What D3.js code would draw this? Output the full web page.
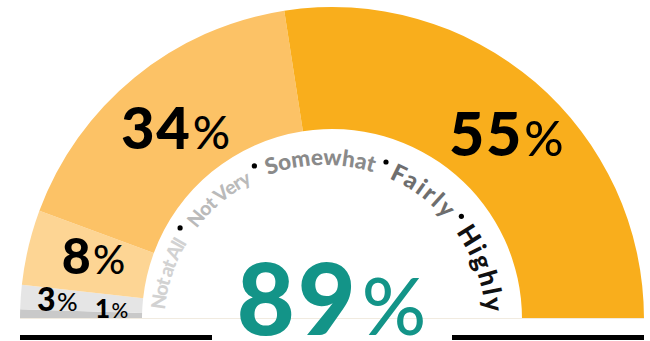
<!DOCTYPE html>
<html lang="en">
<head>
<meta charset="UTF-8">
<title>Gauge</title>
<style>
    body {
        margin: 0;
        background-color: #fff;
    }
    svg {
        display: block;
        font-family: Lato, "Noto Sans", sans-serif;
    }
</style>
</head>
<body>
<svg id="chart" width="650" height="341"></svg>
<script src="https://d3js.org/d3.v7.min.js"></script>
<script>
    // data
    const categories = ["Not at All", "Not Very", "Somewhat", "Fairly", "Highly"];
    const values = [1.0, 2.5, 7.8, 33.9, 55.0];
    const valueLabels = ["1%", "3%", "8%", "34%", "55%"];
    const headline = "89";

    // layout
    const cx = 332, cy = 319;
    const innerR = 190, outerR = 312;
    const sliceColors = ["#c9c9c9", "#e5e5e5", "#fdd594", "#fcc266", "#f9ae1c"];
    const labelSizes = [26, 32, 50, 58, 61];
    const labelRadius = [220, 275, 246, 246, 255];
    const labelNudge = [0, 0, 1.6, 0, 2.8]; // degrees along the arc

    // curved word ring (angles in degrees, measured from the left end)
    const wordColors = ["#d2d2d2", "#bababa", "#8a8a8a", "#6e6e6e", "#111"];
    const wordSizes = [19.5, 19.5, 22.5, 24, 26];
    const ringStart = 5.7, ringEnd = 175, dotGap = 3;
    const dotAngles = [34.1, 66.2, 110.4, 141.2];

    const svg = d3.select("#chart");

    const pie = d3.pie().sort(null)
        .startAngle(-Math.PI / 2)
        .endAngle(Math.PI / 2);
    const arcs = pie(values);

    const arc = d3.arc().innerRadius(innerR).outerRadius(outerR);

    const g = svg.append("g").attr("transform", `translate(${cx},${cy})`);

    g.selectAll("path.slice")
        .data(arcs)
        .enter().append("path")
        .attr("class", "slice")
        .attr("d", arc)
        .attr("fill", (d, i) => sliceColors[i]);

    // faint base line
    svg.append("line")
        .attr("x1", cx - outerR).attr("x2", cx + outerR)
        .attr("y1", cy - 0.5).attr("y2", cy - 0.5)
        .attr("stroke", "#f1ebe0").attr("stroke-width", 1);

    // value labels, kept above the base line
    function labelPos(d, i) {
        const a = (d.startAngle + d.endAngle) / 2 + labelNudge[i] * Math.PI / 180;
        const x = labelRadius[i] * Math.sin(a);
        let y = -labelRadius[i] * Math.cos(a) + 0.36 * labelSizes[i];
        return [x, Math.min(y, -1)];
    }

    g.selectAll("text.val")
        .data(arcs)
        .enter().append("text")
        .attr("class", "val")
        .attr("text-anchor", "middle")
        .attr("font-weight", 900)
        .attr("letter-spacing", "0.03em")
        .attr("font-size", (d, i) => labelSizes[i])
        .attr("fill", "#000")
        .attr("x", (d, i) => labelPos(d, i)[0])
        .attr("y", (d, i) => labelPos(d, i)[1])
        .each(function(d, i) {
            const t = d3.select(this);
            const num = valueLabels[i].replace("%", "");
            t.append("tspan").text(num);
            t.append("tspan").attr("font-size", "0.8em").attr("font-weight", 500).attr("dx", "0.02em").text("%");
        });

    // curved category labels
    const tcx = 325, tcy = 326, textR = 161, dotR = 175;
    svg.append("path")
        .attr("id", "labelArc")
        .attr("fill", "none")
        .attr("d", `M ${tcx - textR} ${tcy} A ${textR} ${textR} 0 0 1 ${tcx + textR} ${tcy}`);

    const degLen = Math.PI * textR / 180;
    const bounds = [ringStart, ...dotAngles, ringEnd];
    const spans = categories.map((c, i) => [
        bounds[i] + (i > 0 ? dotGap : 0),
        bounds[i + 1] - (i < categories.length - 1 ? dotGap : 0)
    ]);

    svg.selectAll("text.word")
        .data(categories)
        .enter().append("text")
        .attr("class", "word")
        .attr("font-weight", 900)
        .attr("font-size", (d, i) => wordSizes[i])
        .attr("fill", (d, i) => wordColors[i])
        .each(function(d, i) {
            const t = d3.select(this);
            t.append("textPath")
                .attr("href", "#labelArc")
                .attr("startOffset", spans[i][0] * degLen)
                .text(d);
            // spread letters so each word fills its stretch of the ring
            const natural = this.getComputedTextLength();
            const want = (spans[i][1] - spans[i][0]) * degLen;
            t.attr("letter-spacing", (want - natural) / (d.length - 1));
        });

    svg.selectAll("circle.sep")
        .data(dotAngles)
        .enter().append("circle")
        .attr("class", "sep")
        .attr("cx", d => tcx - dotR * Math.cos(d * Math.PI / 180))
        .attr("cy", d => tcy - dotR * Math.sin(d * Math.PI / 180))
        .attr("r", 2.6)
        .attr("fill", "#000");

    // headline
    svg.append("text")
        .attr("x", cx + 1)
        .attr("y", 335)
        .attr("text-anchor", "middle")
        .attr("font-size", 100)
        .attr("font-weight", 900)
        .attr("letter-spacing", 3)
        .attr("fill", "#139488")
        .call(t => {
            t.append("tspan").text(headline);
            t.append("tspan").attr("font-size", "0.8em").attr("font-weight", 500).attr("dx", "0.04em").text("%");
        });

    // black rules under the gauge
    const gap = 120;
    svg.append("rect")
        .attr("x", cx - outerR).attr("y", 335)
        .attr("width", outerR - gap).attr("height", 5)
        .attr("fill", "#000");
    svg.append("rect")
        .attr("x", cx + gap).attr("y", 335)
        .attr("width", outerR - gap).attr("height", 5)
        .attr("fill", "#000");
</script>
</body>
</html>
